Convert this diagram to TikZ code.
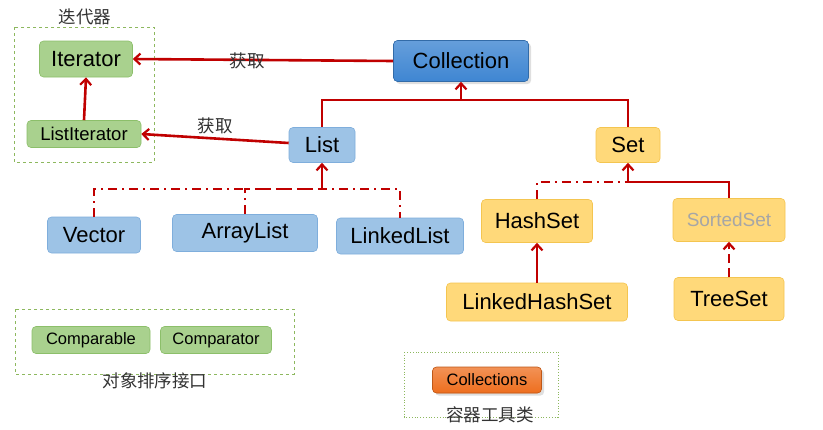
\documentclass[tikz,border=0pt]{standalone}
\usepackage{fontspec}
\setmainfont{Liberation Sans}
\newfontfamily\cjk{Noto Sans CJK SC}
\usetikzlibrary{arrows.meta,shadows}
\definecolor{rl}{HTML}{C00000}
\definecolor{gfill}{HTML}{A9D18E}
\definecolor{gdraw}{HTML}{8CBF6A}
\definecolor{bfill}{HTML}{9DC3E6}
\definecolor{bdraw}{HTML}{7FAEDC}
\definecolor{bdark}{HTML}{3F86D2}
\definecolor{ofill}{HTML}{FFD97A}
\definecolor{odraw}{HTML}{F4C550}
\definecolor{orng}{HTML}{EE6E1E}
\definecolor{grp}{HTML}{8DB85E}
\begin{document}
\begin{tikzpicture}[x=1pt,y=-1pt,
  box/.style={rounded corners=4pt,inner sep=0pt,anchor=center,line width=0.6pt},
  gbox/.style={box,fill=gfill,draw=gdraw},
  bbox/.style={box,fill=bfill,draw=bdraw},
  obox/.style={box,fill=ofill,draw=odraw},
  big/.style={font=\fontsize{22}{22}\selectfont},
  conn/.style={draw=rl,line width=2.6pt},
  arr/.style={conn,-{Straight Barb[length=6pt,width=11pt,line width=2.2pt]}},
  dd/.style={conn,dash pattern=on 9pt off 5pt on 2pt off 5pt},
  grpbox/.style={draw=grp,dashed,line width=0.7pt},
  lab/.style={font=\cjk\fontsize{17.5}{17.5}\selectfont,text=black!80,inner sep=0pt}]
\useasboundingbox (0,0) rectangle (823,429);
\fill[white] (0,0) rectangle (823,429);
% groups
\draw[grpbox] (14,27) rectangle (154,162);
\node[lab] (t1) at (85,17) {迭代器};
\draw[grpbox] (15,309) rectangle (294,374);
\node[lab] (t2) at (155,381) {对象排序接口};
\draw[draw=grp,dotted,line width=0.8pt] (404,352) rectangle (558,417);
\node[lab] (t3) at (490,415) {容器工具类};
% nodes
\node[gbox,minimum width=93pt,minimum height=36pt,big] (it) at (86,59) {Iterator};
\node[gbox,minimum width=114pt,minimum height=27pt,font=\fontsize{18.5}{18.5}\selectfont] (lit) at (84,134) {ListIterator};
\node[box,fill=bdark,draw=bdark!80!black,top color=bdark!80!white,bottom color=bdark,minimum width=135pt,minimum height=41pt,big,drop shadow={opacity=0.25}] (col) at (461,61) {Collection};
\node[bbox,minimum width=66pt,minimum height=35pt,big] (list) at (322,145) {List};
\node[obox,minimum width=64pt,minimum height=35pt,big] (set) at (628,145) {Set};
\node[bbox,minimum width=93pt,minimum height=36pt,big] (vec) at (94,235) {Vector};
\node[bbox,minimum width=145pt,minimum height=37pt,big] (al) at (245,233) {ArrayList};
\node[bbox,minimum width=127pt,minimum height=36pt,big] (ll) at (400,236) {LinkedList};
\node[obox,minimum width=111pt,minimum height=43pt,big] (hs) at (537,221) {HashSet};
\node[obox,minimum width=112pt,minimum height=43pt,font=\fontsize{19}{19}\selectfont,text=black!35] (ss) at (729,220) {SortedSet};
\node[obox,minimum width=181pt,minimum height=38pt,big] (lhs) at (537,302) {LinkedHashSet};
\node[obox,minimum width=110pt,minimum height=43pt,big] (ts) at (729,299) {TreeSet};
\node[gbox,minimum width=118pt,minimum height=27pt,font=\fontsize{16.5}{16.5}\selectfont] (cmpb) at (91,340) {Comparable};
\node[gbox,minimum width=111pt,minimum height=27pt,font=\fontsize{16.5}{16.5}\selectfont] (cmpt) at (216,340) {Comparator};
\node[box,fill=orng,draw=orng!80!black,top color=orng!75!white,bottom color=orng,minimum width=109pt,minimum height=26pt,font=\fontsize{16.5}{16.5}\selectfont,drop shadow={opacity=0.25}] (cols) at (487,380) {Collections};
% connectors
\coordinate (jc) at (461,100);
\coordinate (jl) at (322,189);
\coordinate (js) at (628,182);
\draw[arr] (col.west) -- (it.east) node[pos=0.56,lab,anchor=center,yshift=-1pt] (g1) {获取};
\draw[arr] ([yshift=2pt]list.west) -- (lit.east) node[pos=0.5,lab,above=3pt] (g2) {获取};
\draw[arr] (lit.north) -- (it.south);
\draw[conn] (list.north) |- (jc) -| (set.north);
\draw[arr] (jc) -- (col.south);
\draw[dd] (vec.north) |- (jl) -| (ll.north);
\draw[dd] (al.north) |- (jl);
\draw[arr] (jl) -- (list.south);
\draw[dd] (hs.north) |- (js);
\draw[conn] (ss.north) |- (js);
\draw[arr] (js) -- (set.south);
\draw[arr] (lhs.north) -- (hs.south);
\draw[arr,dash pattern=on 9pt off 5pt] (ts.north) -- (ss.south);
\end{tikzpicture}
\end{document}
